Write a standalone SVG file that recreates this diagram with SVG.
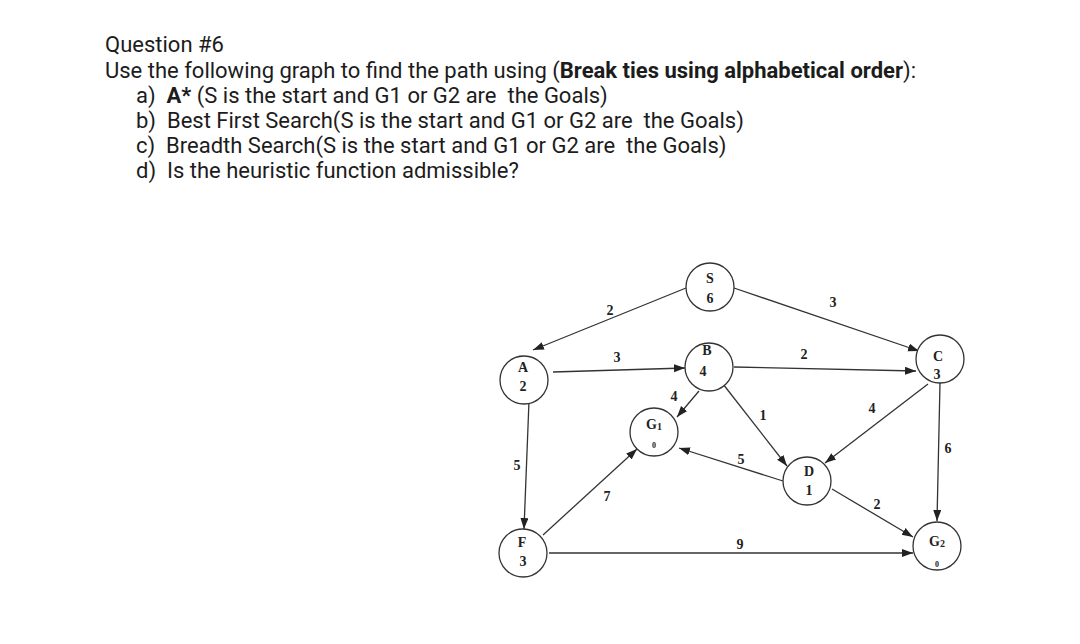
<svg xmlns="http://www.w3.org/2000/svg" width="1080" height="644" viewBox="0 0 1080 644">
<defs>
<style>
.q{font-family:Roboto,"Liberation Sans",sans-serif;font-size:22px;fill:#1c1c1c;white-space:pre}
.b{font-weight:bold}
.n{fill:#fff;stroke:#333;stroke-width:1.3}
.t{font-family:"Liberation Serif","Times New Roman",serif;font-weight:bold;font-size:14px;fill:#222;text-anchor:middle}
.h{font-family:"Liberation Serif","Times New Roman",serif;font-weight:bold;font-size:8px;fill:#222;text-anchor:middle}
.e{stroke:#333;stroke-width:1.3;fill:none;marker-end:url(#ah)}
.w{font-family:"Liberation Serif","Times New Roman",serif;font-weight:bold;font-size:14px;fill:#222;text-anchor:middle}
</style>
<marker id="ah" markerUnits="userSpaceOnUse" markerWidth="12" markerHeight="10" refX="11" refY="4" orient="auto">
<path d="M0,0 L11,4 L0,8 z" fill="#222"/>
</marker>
</defs>
<rect width="1080" height="644" fill="#fff"/>
<g id="question">
<text class="q" x="105" y="52">Question #6</text>
<text class="q" x="105" y="78">Use the following graph to find the path using (<tspan class="b">Break ties using alphabetical order</tspan>):</text>
<text class="q" x="136" y="103">a)  <tspan class="b">A*</tspan> (S is the start and G1 or G2 are  the Goals)</text>
<text class="q" x="136" y="128">b)  Best First Search(S is the start and G1 or G2 are  the Goals)</text>
<text class="q" x="136" y="153">c)  Breadth Search(S is the start and G1 or G2 are  the Goals)</text>
<text class="q" x="136" y="178">d)  Is the heuristic function admissible?</text>
</g>
<g id="connectors">
<line class="e" x1="686" y1="288" x2="533" y2="350"/>
<line class="e" x1="734" y1="288" x2="919" y2="351"/>
<line class="e" x1="553" y1="372" x2="685" y2="368"/>
<line class="e" x1="734" y1="367" x2="916" y2="371"/>
<line class="e" x1="699" y1="391" x2="677" y2="417"/>
<line class="e" x1="723" y1="384" x2="787" y2="466"/>
<line class="e" x1="928" y1="384" x2="825" y2="463"/>
<line class="e" x1="940" y1="383" x2="937" y2="521"/>
<line class="e" x1="783" y1="481" x2="679" y2="448"/>
<line class="e" x1="832" y1="489" x2="913" y2="537"/>
<line class="e" x1="529" y1="401" x2="524" y2="529"/>
<line class="e" x1="543" y1="535" x2="637" y2="449"/>
<line class="e" x1="549" y1="553" x2="913" y2="553"/>
<text class="w" x="610" y="315">2</text>
<text class="w" x="833" y="307">3</text>
<text class="w" x="617" y="362">3</text>
<text class="w" x="804" y="359">2</text>
<text class="w" x="674" y="401">4</text>
<text class="w" x="763" y="420">1</text>
<text class="w" x="872" y="413">4</text>
<text class="w" x="948" y="453">6</text>
<text class="w" x="741" y="464">5</text>
<text class="w" x="877" y="509">2</text>
<text class="w" x="517" y="470">5</text>
<text class="w" x="607" y="501">7</text>
<text class="w" x="740" y="549">9</text>
</g>
<g id="S"><circle class="n" cx="710" cy="287" r="24"/><text class="t" x="710" y="283">S</text><text class="t" x="710" y="303">6</text></g>
<g id="A"><circle class="n" cx="524" cy="380" r="24"/><text class="t" x="523" y="372">A</text><text class="t" x="523" y="391">2</text></g>
<g id="B"><circle class="n" cx="709" cy="367" r="24"/><text class="t" x="707" y="355">B</text><text class="t" x="703" y="376">4</text></g>
<g id="C"><circle class="n" cx="940" cy="359" r="24"/><text class="t" x="938" y="361">C</text><text class="t" x="937" y="379">3</text></g>
<g id="G1"><circle class="n" cx="654" cy="432" r="24"/><text class="t" x="654" y="429">G<tspan font-size="10" dy="1">1</tspan></text><text class="h" x="654" y="448">0</text></g>
<g id="D"><circle class="n" cx="807" cy="481" r="24"/><text class="t" x="809" y="476">D</text><text class="t" x="809" y="495">1</text></g>
<g id="F"><circle class="n" cx="523" cy="553" r="24"/><text class="t" x="522" y="547">F</text><text class="t" x="523" y="566">3</text></g>
<g id="G2"><circle class="n" cx="937" cy="546" r="24"/><text class="t" x="937" y="546">G<tspan font-size="10" dy="1">2</tspan></text><text class="h" x="937" y="567">0</text></g>
</svg>
